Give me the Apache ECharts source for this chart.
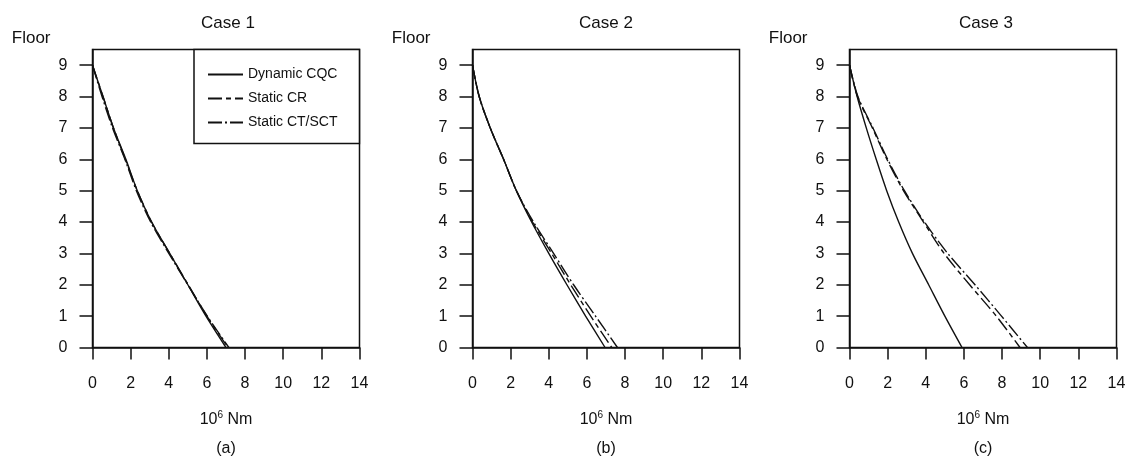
<!DOCTYPE html>
<html>
<head>
<meta charset="utf-8">
<script src="https://cdn.jsdelivr.net/npm/echarts@6/dist/echarts.min.js"></script>
<style>
html,body{margin:0;padding:0;background:#fff;}
#chart{width:1132px;height:458px;}
</style>
</head>
<body>
<div id="chart"></div>
<script>
// ---- data (floor from 9 down to 0) ----
const floors = [9, 8, 7, 6, 5, 4, 3, 2, 1, 0];
const seriesNames = ['Dynamic CQC', 'Static CR', 'Static CT/SCT'];
const caseTitles = ['Case 1', 'Case 2', 'Case 3'];
const panelLabels = ['(a)', '(b)', '(c)'];
const xTicks = [0, 2, 4, 6, 8, 10, 12, 14];
const yTicks = [0, 1, 2, 3, 4, 5, 6, 7, 8, 9];

// Case 1
const case1Dynamic = [0, 0.55, 1.1, 1.75, 2.35, 3.1, 4.05, 5.0, 5.95, 7.0];
const case1CR      = [0, 0.55, 1.1, 1.72, 2.35, 3.1, 4.05, 5.02, 6.0, 7.1];
const case1CT      = [0, 0.5, 1.05, 1.7, 2.3, 3.05, 4.0, 5.0, 6.02, 7.15];
// Case 2
const case2Dynamic = [0, 0.35, 0.93, 1.63, 2.3, 3.1, 4.0, 4.95, 5.93, 6.95];
const case2CR      = [0, 0.35, 0.93, 1.63, 2.3, 3.15, 4.15, 5.15, 6.2, 7.3];
const case2CT      = [0, 0.35, 0.93, 1.63, 2.3, 3.2, 4.25, 5.3, 6.45, 7.6];
// Case 3
const case3Dynamic = [0, 0.4, 0.88, 1.4, 1.95, 2.58, 3.3, 4.15, 5.0, 5.9];
const case3CR      = [0, 0.42, 1.2, 1.96, 2.83, 3.88, 4.96, 6.3, 7.7, 8.94];
const case3CT      = [0, 0.44, 1.23, 2.0, 2.88, 3.93, 5.15, 6.58, 7.97, 9.33];

const caseData = [
  [case1Dynamic, case1CR, case1CT],
  [case2Dynamic, case2CR, case2CT],
  [case3Dynamic, case3CR, case3CT]
];

// ---- layout ----
const gridLefts = [92.5, 472.5, 849.5];
const gridWidth = 267;
const gridTop = 49.5;
const gridHeight = 298;
const titleCenters = [223, 601, 981];
const FONT = 'Liberation Sans, Arial, Helvetica, sans-serif';
const INK = '#111';
const lineTypes = ['solid', [14, 4, 5, 4], [14, 3, 2, 3]];

const grids = [], xAxes = [], yAxes = [], series = [], titles = [];
for (let p = 0; p < 3; p++) {
  grids.push({
    left: gridLefts[p], top: gridTop, width: gridWidth, height: gridHeight,
    containLabel: false, outerBoundsMode: 'none',
    show: true, borderColor: INK, borderWidth: 1.5, backgroundColor: 'transparent'
  });
  titles.push({
    text: caseTitles[p], left: titleCenters[p], top: 10, textAlign: 'center',
    textStyle: {fontFamily: FONT, fontSize: 17, fontWeight: 'normal', color: INK}
  });
  xAxes.push({
    gridIndex: p, type: 'value', min: 0, max: 14, interval: 2,
    axisLine: {show: true, lineStyle: {color: INK, width: 1.5}},
    axisTick: {show: true, inside: false, length: 12, lineStyle: {color: INK, width: 1.5}},
    axisLabel: {
      margin: 28, color: INK, fontFamily: FONT, fontSize: 16,
      customValues: xTicks
    },
    splitLine: {show: false},
    name: '{n|10}{sup|6}{n| Nm}\n{n|' + panelLabels[p] + '}',
    nameLocation: 'middle', nameGap: 58,
    nameTextStyle: {
      color: INK, fontFamily: FONT, fontSize: 16, lineHeight: 29,
      rich: {
        n: {fontFamily: FONT, fontSize: 16, color: INK, lineHeight: 29},
        sup: {fontFamily: FONT, fontSize: 10, color: INK, lineHeight: 29, padding: [0, 0, 10, 0]}
      }
    }
  });
  yAxes.push({
    gridIndex: p, type: 'value', min: 0, max: 9.5,
    axisLine: {show: true, lineStyle: {color: INK, width: 1.5}},
    axisTick: {show: true, inside: false, length: 13, lineStyle: {color: INK, width: 1.5},
      customValues: yTicks},
    axisLabel: {margin: 25, color: INK, fontFamily: FONT, fontSize: 16, customValues: yTicks},
    splitLine: {show: false},
    name: 'Floor', nameLocation: 'end', nameGap: 3,
    nameTextStyle: {color: INK, fontFamily: FONT, fontSize: 17, align: 'right',
      verticalAlign: 'bottom', padding: [0, 42, 0, 0]}
  });
  for (let s = 0; s < 3; s++) {
    const vals = caseData[p][s];
    series.push({
      name: seriesNames[s], type: 'line', xAxisIndex: p, yAxisIndex: p,
      data: vals.map((v, i) => [v, floors[i]]),
      symbol: 'none', smooth: 0.3, silent: true, animation: false,
      lineStyle: {color: INK, width: 1.4, type: lineTypes[s]},
      itemStyle: {color: INK}
    });
  }
}

const chart = echarts.init(document.getElementById('chart'), null, {renderer: 'canvas'});
chart.setOption({
  backgroundColor: '#fff',
  animation: false,
  title: titles,
  legend: {
    data: seriesNames, orient: 'vertical', left: 194, top: 49.5,
    itemWidth: 35, itemHeight: 12, itemGap: 10,
    padding: [18, 22, 14, 13],
    borderColor: INK, borderWidth: 1.5, backgroundColor: '#fff',
    itemStyle: {opacity: 0, borderWidth: 0},
    textStyle: {fontFamily: FONT, fontSize: 14, color: INK},
    selectedMode: false
  },
  grid: grids, xAxis: xAxes, yAxis: yAxes, series: series
});
</script>
</body>
</html>
